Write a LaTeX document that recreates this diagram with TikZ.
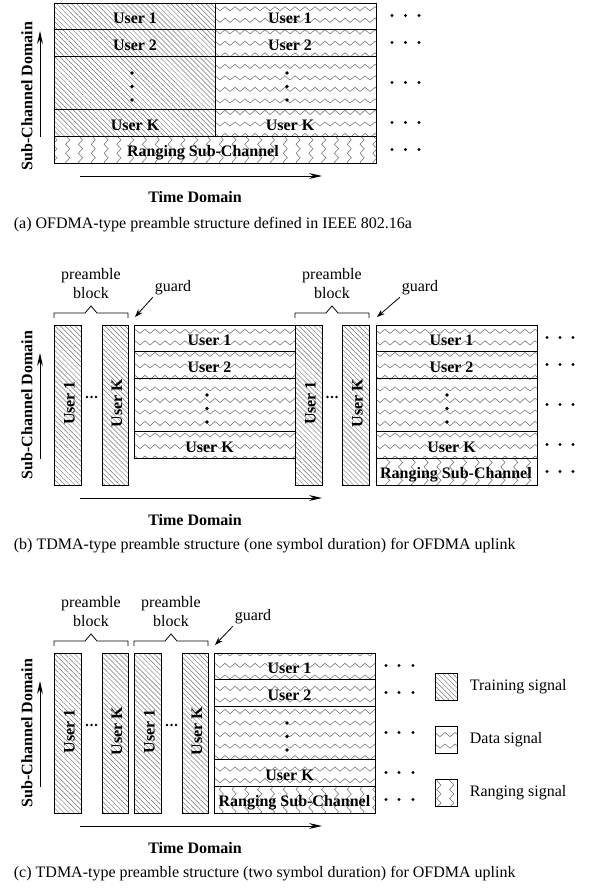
\documentclass[tikz,border=0pt]{standalone}
\usepackage{fontspec}
\setmainfont{Liberation Serif}
\usetikzlibrary{arrows.meta,patterns,patterns.meta}

% zigzag fill of the data rows
\pgfdeclarepatternformonly{datawave}{\pgfqpoint{-0.5pt}{-0.5pt}}{\pgfqpoint{6.75pt}{7.7pt}}{\pgfqpoint{6.25pt}{7.2pt}}{%
  \pgfsetlinewidth{0.35pt}\pgfsetroundcap
  \pgfpathmoveto{\pgfqpoint{0pt}{1pt}}
  \pgfpathlineto{\pgfqpoint{3.125pt}{3.6pt}}
  \pgfpathlineto{\pgfqpoint{6.25pt}{1pt}}
  \pgfusepath{stroke}}
% standing zigzag of the ranging row
\pgfdeclarepatternformonly{rangewave}{\pgfqpoint{-0.5pt}{-0.5pt}}{\pgfqpoint{8.5pt}{6.1pt}}{\pgfqpoint{8pt}{5.6pt}}{%
  \pgfsetlinewidth{0.35pt}\pgfsetroundcap
  \pgfpathmoveto{\pgfqpoint{1pt}{0pt}}
  \pgfpathlineto{\pgfqpoint{3.6pt}{2.8pt}}
  \pgfpathlineto{\pgfqpoint{1pt}{5.6pt}}
  \pgfusepath{stroke}}

\begin{document}
\begin{tikzpicture}[x=0.625pt,y=-0.625pt,
		train/.style={draw,line width=0.6pt,pattern={Lines[angle=-45,distance=2.2pt,line width=0.3pt]},pattern color=black!55},
		data/.style={draw,line width=0.6pt,pattern=datawave,pattern color=black!55},
		rang/.style={draw,line width=0.6pt,pattern=rangewave,pattern color=black!55},
		lab/.style={font=\bfseries,inner sep=0pt,anchor=base},
		vlab/.style={lab,rotate=90},
		note/.style={inner sep=1pt},
		axis/.style={line width=0.6pt,-{Stealth[length=8pt,width=3.6pt]}},
		ptr/.style={line width=0.5pt,-{Stealth[length=5pt,width=3.5pt]}},
		brace/.style={line width=0.5pt}]
	\useasboundingbox (0,0) rectangle (588,888);

	% (a) OFDMA-type preamble
	\begin{scope}[shift={(0,3)}]
		\path[train] (54,0) rectangle (215,26.7);
		\path[train] (54,26.7) rectangle (215,53.4);
		\path[train] (54,53.4) rectangle (215,106.8);
		\path[train] (54,106.8) rectangle (215,133.5);
		\path[data] (215,0) rectangle (376,26.7);
		\path[data] (215,26.7) rectangle (376,53.4);
		\path[data] (215,53.4) rectangle (376,106.8);
		\path[data] (215,106.8) rectangle (376,133.5);
		\path[rang] (54,133.5) rectangle (376,160.2);

		\node[lab] (a-t1) at (135,20.35) {User 1};
		\node[lab] (a-t2) at (135,47.05) {User 2};
		\node[lab] (a-tk) at (135,127.15) {User K};
		\node[lab] (a-d1) at (290,20.35) {User 1};
		\node[lab] (a-d2) at (290,47.05) {User 2};
		\node[lab] (a-dk) at (290,127.15) {User K};
		\node[lab] (a-rng) at (203,153.85) {Ranging Sub-Channel};

		\foreach \y in {70,83.5,97} {
			\fill (132,\y) circle (1.2pt);
			\fill (287,\y) circle (1.2pt);
		}
		\foreach \y in {12.5,39.5,79.5,119.5,146.5}
			\foreach \x in {392,405.5,419}
				\fill (\x,\y) circle (1pt);

		% axes
		\coordinate (a-vlo) at (40,133.5);
		\coordinate (a-vhi) at (40,28);
		\coordinate (a-hlo) at (80,173);
		\coordinate (a-hhi) at (322,173);
		\draw[axis] (a-vlo) -- (a-vhi);
		\draw[axis] (a-hlo) -- (a-hhi);
		\node[font=\bfseries,rotate=90,inner sep=0pt] (a-sub) at (27,93) {Sub-Channel Domain};
		\node[font=\bfseries,inner sep=0pt] (a-time) at (195,194) {Time Domain};
		\node[note,anchor=west] (a-cap) at (12,222) {(a) OFDMA-type preamble structure defined in IEEE 802.16a};
	\end{scope}

	% (b) TDMA-type preamble, one symbol
	\begin{scope}[shift={(0,325)}]
		\path[train] (54,0) rectangle (81,160.2);
		\path[train] (102,0) rectangle (128,160.2);
		\path[data] (134,0) rectangle (295,26.7);
		\path[data] (134,26.7) rectangle (295,53.4);
		\path[data] (134,53.4) rectangle (295,106.8);
		\path[data] (134,106.8) rectangle (295,133.5);
		\path[train] (295,0) rectangle (322,160.2);
		\path[train] (342,0) rectangle (369,160.2);
		\path[data] (376,0) rectangle (537,26.7);
		\path[data] (376,26.7) rectangle (537,53.4);
		\path[data] (376,53.4) rectangle (537,106.8);
		\path[data] (376,106.8) rectangle (537,133.5);
		\path[rang] (376,133.5) rectangle (537,160.2);

		\node[vlab] (b-p1u1) at (74.5,78) {User 1};
		\node[vlab] (b-p1uk) at (122,78) {User K};
		\node[vlab] (b-p2u1) at (315.5,78) {User 1};
		\node[vlab] (b-p2uk) at (362.5,78) {User K};
		\node[lab] (b-d1) at (209.5,20.35) {User 1};
		\node[lab] (b-d2) at (209.5,47.05) {User 2};
		\node[lab] (b-dk) at (209.5,127.15) {User K};
		\node[lab] (b-e1) at (451.5,20.35) {User 1};
		\node[lab] (b-e2) at (451.5,47.05) {User 2};
		\node[lab] (b-ek) at (451.5,127.15) {User K};
		\node[lab] (b-rng) at (456,153.85) {Ranging Sub-Channel};

		\foreach \x in {87,91.5,96,327.5,332,336.5}
			\fill (\x,72) circle (0.85pt);
		\foreach \y in {70,83.5,97} {
			\fill (207,\y) circle (1.2pt);
			\fill (447,\y) circle (1.2pt);
		}
		\foreach \y in {12.5,39.5,79.5,119.5,146.5}
			\foreach \x in {547,560,573}
				\fill (\x,\y) circle (1pt);

		% preamble blocks and guards
		\draw[brace] (54,-7) -- (54,-12) -- (85,-12) -- (91,-19) -- (97,-12) -- (128,-12) -- (128,-7);
		\draw[brace] (295,-7) -- (295,-12) -- (326,-12) -- (332,-19) -- (338,-12) -- (369,-12) -- (369,-7);
		\node[note,align=center] (b-pre1) at (91,-41.5) {preamble\\block};
		\node[note,align=center] (b-pre2) at (332,-41.5) {preamble\\block};
		\node[note] (b-grd1) at (173,-37) {guard};
		\node[note] (b-grd2) at (420,-37) {guard};
		\coordinate (b-gap1) at (135,-8);
		\coordinate (b-gap2) at (377,-8);
		\draw[ptr] (b-grd1.south west) -- (b-gap1);
		\draw[ptr] (b-grd2.south west) -- (b-gap2);

		% axes
		\coordinate (b-vlo) at (40,133.5);
		\coordinate (b-vhi) at (40,28);
		\coordinate (b-hlo) at (80,173);
		\coordinate (b-hhi) at (322,173);
		\draw[axis] (b-vlo) -- (b-vhi);
		\draw[axis] (b-hlo) -- (b-hhi);
		\node[font=\bfseries,rotate=90,inner sep=0pt] (b-sub) at (27,80) {Sub-Channel Domain};
		\node[font=\bfseries,inner sep=0pt] (b-time) at (195,195) {Time Domain};
		\node[note,anchor=west] (b-cap) at (12,221) {(b) TDMA-type preamble structure (one symbol duration) for OFDMA uplink};
	\end{scope}

	% (c) TDMA-type preamble, two symbols
	\begin{scope}[shift={(0,653)}]
		\path[train] (54,0) rectangle (81,160.2);
		\path[train] (102,0) rectangle (128,160.2);
		\path[train] (134,0) rectangle (161,160.2);
		\path[train] (182,0) rectangle (208,160.2);
		\path[data] (214,0) rectangle (375,26.7);
		\path[data] (214,26.7) rectangle (375,53.4);
		\path[data] (214,53.4) rectangle (375,106.8);
		\path[data] (214,106.8) rectangle (375,133.5);
		\path[rang] (214,133.5) rectangle (375,160.2);

		\node[vlab] (c-p1u1) at (74.5,78) {User 1};
		\node[vlab] (c-p1uk) at (122,78) {User K};
		\node[vlab] (c-p2u1) at (154.5,78) {User 1};
		\node[vlab] (c-p2uk) at (202,78) {User K};
		\node[lab] (c-d1) at (289.5,20.35) {User 1};
		\node[lab] (c-d2) at (289.5,47.05) {User 2};
		\node[lab] (c-dk) at (289.5,127.15) {User K};
		\node[lab] (c-rng) at (294.5,153.85) {Ranging Sub-Channel};

		\foreach \x in {87,91.5,96,167,171.5,176}
			\fill (\x,72) circle (0.85pt);
		\foreach \y in {70,83.5,97}
			\fill (287,\y) circle (1.2pt);
		\foreach \y in {12.5,39.5,79.5,119.5,146.5}
			\foreach \x in {386,399,413}
				\fill (\x,\y) circle (1pt);

		% preamble blocks and guard
		\draw[brace] (54,-7) -- (54,-12) -- (85,-12) -- (91,-19) -- (97,-12) -- (128,-12) -- (128,-7);
		\draw[brace] (134,-7) -- (134,-12) -- (165,-12) -- (171,-19) -- (177,-12) -- (208,-12) -- (208,-7);
		\node[note,align=center] (c-pre1) at (91,-41.5) {preamble\\block};
		\node[note,align=center] (c-pre2) at (171,-41.5) {preamble\\block};
		\node[note] (c-grd) at (253,-36) {guard};
		\coordinate (c-gap) at (215,-8);
		\draw[ptr] (c-grd.south west) -- (c-gap);

		% legend
		\path[train] (435,20) rectangle (457,47);
		\path[data] (435,73) rectangle (457,100);
		\path[rang] (435,126) rectangle (457,153);
		\node[note,anchor=west] (c-ltr) at (468,33.5) {Training signal};
		\node[note,anchor=west] (c-ldt) at (468,86.5) {Data signal};
		\node[note,anchor=west] (c-lrg) at (468,139.5) {Ranging signal};

		% axes
		\coordinate (c-vlo) at (40,133.5);
		\coordinate (c-vhi) at (40,28);
		\coordinate (c-hlo) at (80,173);
		\coordinate (c-hhi) at (322,173);
		\draw[axis] (c-vlo) -- (c-vhi);
		\draw[axis] (c-hlo) -- (c-hhi);
		\node[font=\bfseries,rotate=90,inner sep=0pt] (c-sub) at (27,80) {Sub-Channel Domain};
		\node[font=\bfseries,inner sep=0pt] (c-time) at (195,195) {Time Domain};
		\node[note,anchor=west] (c-cap) at (12,221) {(c) TDMA-type preamble structure (two symbol duration) for OFDMA uplink};
	\end{scope}
\end{tikzpicture}
\end{document}
